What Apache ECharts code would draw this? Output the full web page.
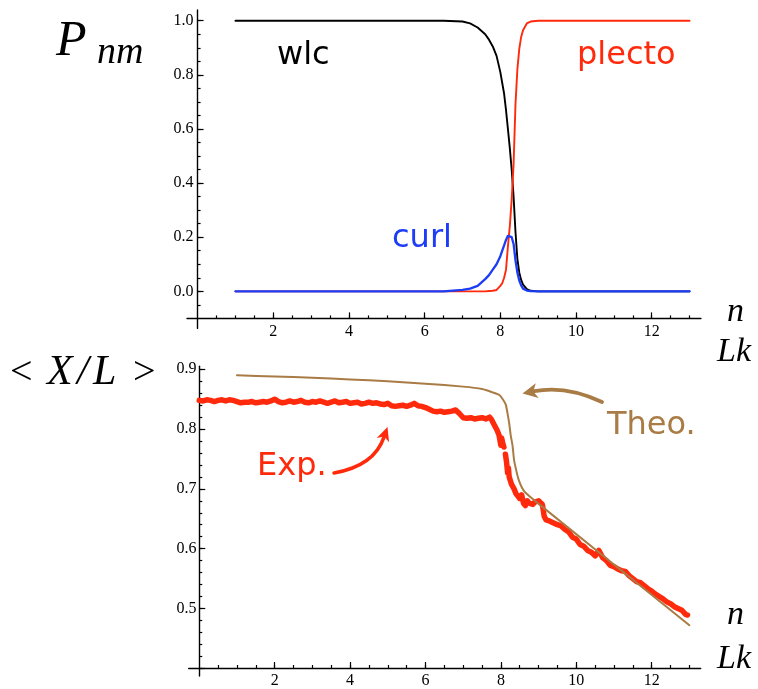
<!DOCTYPE html>
<html>
<head>
<meta charset="utf-8">
<script src="https://cdn.jsdelivr.net/npm/echarts@6/dist/echarts.min.js"></script>
<style>
  html, body { margin: 0; padding: 0; background: #fff; }
  #chart { width: 758px; height: 689px; }
</style>
</head>
<body>
<div id="chart"></div>
<script>
// ---- Upper panel: state probabilities P_nm versus n ----
const nModel = [1, 6.5, 7.0, 7.2, 7.4, 7.6, 7.7, 7.8, 7.9, 8.0, 8.05, 8.1, 8.15, 8.2, 8.25, 8.3, 8.35, 8.4, 8.45, 8.5, 8.55, 8.6, 8.7, 8.8, 9.0, 13];
const pWlc    = [1, 1, 0.997, 0.99, 0.975, 0.95, 0.93, 0.905, 0.87, 0.81, 0.77, 0.73, 0.67, 0.6, 0.53, 0.45, 0.35, 0.22, 0.12, 0.07, 0.042, 0.025, 0.008, 0.002, 0, 0];
const pPlecto = [0, 0, 0, 0, 0, 0, 0.001, 0.002, 0.005, 0.02, 0.03, 0.05, 0.08, 0.165, 0.24, 0.34, 0.47, 0.69, 0.82, 0.895, 0.94, 0.965, 0.99, 0.997, 1, 1];
const pCurl   = [0, 0, 0.005, 0.01, 0.02, 0.045, 0.06, 0.08, 0.1, 0.13, 0.15, 0.17, 0.19, 0.205, 0.212, 0.2, 0.175, 0.115, 0.07, 0.04, 0.022, 0.01, 0.003, 0.001, 0, 0];

// ---- Lower panel: relative extension <X/L> versus Lk ----
const lkTheo = [1, 2, 3, 4, 5, 6, 7, 7.5, 7.8, 7.96, 8.05, 8.13, 8.18, 8.22, 8.26, 8.31, 8.35, 8.40, 8.45, 8.49, 8.55, 8.62, 8.7, 8.79, 9.06, 13];
const xlTheo = [0.890, 0.888, 0.886, 0.883, 0.880, 0.876, 0.871, 0.867, 0.861, 0.857, 0.850, 0.841, 0.825, 0.810, 0.790, 0.772, 0.748, 0.733, 0.720, 0.712, 0.703, 0.696, 0.691, 0.686, 0.672, 0.472];

const lkExp = [
  0.0, 0.1, 0.2, 0.3, 0.4, 0.5, 0.6, 0.7, 0.8, 0.9,
  1.0, 1.1, 1.2, 1.3, 1.4, 1.5, 1.6, 1.7, 1.8, 1.9,
  2.0, 2.1, 2.2, 2.3, 2.4, 2.5, 2.6, 2.7, 2.8, 2.9,
  3.0, 3.1, 3.2, 3.3, 3.4, 3.5, 3.6, 3.7, 3.8, 3.9,
  4.0, 4.1, 4.2, 4.3, 4.4, 4.5, 4.6, 4.7, 4.8, 4.9,
  5.0, 5.1, 5.2, 5.3, 5.4, 5.5, 5.6, 5.7, 5.8, 5.9,
  6.0, 6.1, 6.2, 6.3, 6.4, 6.5, 6.6, 6.7, 6.8, 6.9,
  7.0, 7.1, 7.2, 7.3, 7.4, 7.5, 7.6, 7.7, 7.75, 7.8,
  7.85, 7.9, 7.95, 8.0, 8.02, 8.05, 8.08, 8.1, 8.12, 8.15,
  8.18, 8.2, 8.22, 8.25, 8.28, 8.3, 8.35, 8.4, 8.45, 8.5,
  8.55, 8.6, 8.65, 8.7, 8.75, 8.8, 8.85, 8.9, 8.95, 9.0,
  9.05, 9.1, 9.15, 9.2, 9.3, 9.4, 9.5, 9.6, 9.7, 9.8,
  9.9, 10.0, 10.1, 10.2, 10.3, 10.4, 10.5, 10.6, 10.7, 10.8,
  10.9, 11.0, 11.1, 11.2, 11.3, 11.4, 11.5, 11.6, 11.7, 11.8,
  11.9, 12.0, 12.1, 12.2, 12.3, 12.4, 12.5, 12.6, 12.7, 12.8,
  12.9, 12.95
];
const xlExp = [
  0.848, 0.847, 0.849, 0.848, 0.846, 0.848, 0.849, 0.847, 0.849, 0.848,
  0.846, 0.844, 0.845, 0.845, 0.846, 0.844, 0.845, 0.846, 0.845, 0.847,
  0.850, 0.846, 0.844, 0.845, 0.847, 0.845, 0.846, 0.848, 0.845, 0.844,
  0.846, 0.845, 0.847, 0.845, 0.843, 0.845, 0.847, 0.844, 0.845, 0.846,
  0.843, 0.844, 0.845, 0.842, 0.843, 0.845, 0.843, 0.844, 0.842, 0.841,
  0.843, 0.839, 0.838, 0.839, 0.840, 0.838, 0.840, 0.843, 0.839, 0.838,
  0.836, 0.833, 0.830, 0.829, 0.830, 0.828, 0.829, 0.830, 0.832, 0.826,
  0.819, 0.818, 0.819, 0.817, 0.818, 0.819, 0.817, 0.820, 0.816, 0.814,
  0.804, 0.798, 0.790, 0.773, 0.785, 0.776, 0.770, null, 0.758, 0.745,
  0.726, 0.735, 0.720, 0.722, 0.708, 0.710, 0.700, 0.692, 0.688, 0.684,
  0.690, 0.676, 0.672, 0.680, 0.676, 0.679, 0.674, 0.678, 0.675, 0.680,
  0.677, 0.674, 0.654, 0.648, 0.646, 0.643, 0.640, 0.638, 0.632, 0.628,
  0.619, 0.616, 0.607, 0.604, 0.597, 0.594, 0.588, 0.597, 0.585, 0.580,
  0.572, 0.570, 0.566, 0.563, 0.562, 0.555, 0.550, 0.545, 0.543, 0.538,
  0.533, 0.529, 0.524, 0.520, 0.516, 0.511, 0.508, 0.503, 0.500, 0.497,
  0.490, 0.489
];

// ---- Tick labels ----
const nTickLabels  = [2, 4, 6, 8, 10, 12];
const pTickLabels  = [0.0, 0.2, 0.4, 0.6, 0.8, 1.0];
const xlTickLabels = [0.5, 0.6, 0.7, 0.8, 0.9];

const RED = '#ff2a0c', BLUE = '#1d3cf5', BROWN = '#a97b45';
const SERIF = '"Liberation Serif", "DejaVu Serif", serif';
const HAND = '"DejaVu Sans", sans-serif';

function steps(from, to, step) {
  const out = [];
  for (let k = 0; from + k * step <= to + 1e-9; k++) out.push(+(from + k * step).toFixed(4));
  return out;
}
const nMinor = steps(0.5, 13, 0.5);
const pMinor = steps(-0.05, 1.0, 0.05);
const pMajor = pTickLabels.slice();
const xlMinor = steps(0.4, 0.9, 0.02);
const xlMajor = [0.4].concat(xlTickLabels);

const axisLineStyle = { color: '#000', width: 1.4 };
const tickStyle = { color: '#000', width: 1.2 };
const labelStyle = { color: '#000', fontFamily: SERIF, fontSize: 16 };

function xAxes(grid, offset) {
  const base = { gridIndex: grid, type: 'value', min: -0.28, max: 13.3, position: 'bottom', offset: offset, splitLine: { show: false } };
  return [
    Object.assign({}, base, {
      axisLine: { onZero: false, lineStyle: axisLineStyle },
      axisTick: { inside: true, length: 3, customValues: nMinor, lineStyle: tickStyle },
      axisLabel: Object.assign({ customValues: nTickLabels, margin: 5 }, labelStyle)
    }),
    Object.assign({}, base, {
      axisLine: { show: false, onZero: false },
      axisTick: { inside: true, length: 6, customValues: nTickLabels, lineStyle: tickStyle },
      axisLabel: { show: false }
    })
  ];
}
// the y axis sits on n = 0, while its labels are laid out from the grid edge,
// so the label margin is negative to bring them next to the axis line
function yAxes(grid, min, max, minor, major, labels, labelMargin) {
  const base = { gridIndex: grid, type: 'value', min: min, max: max, position: 'left', splitLine: { show: false } };
  return [
    Object.assign({}, base, {
      axisLine: { onZero: true, lineStyle: axisLineStyle },
      axisTick: { inside: true, length: 3, customValues: minor, lineStyle: tickStyle },
      axisLabel: Object.assign({ customValues: labels, margin: labelMargin, formatter: v => (+v).toFixed(1) }, labelStyle)
    }),
    Object.assign({}, base, {
      axisLine: { show: false, onZero: true },
      axisTick: { inside: true, length: 6, customValues: major, lineStyle: tickStyle },
      axisLabel: { show: false }
    })
  ];
}

const zip = (xs, ys) => xs.map((x, i) => [x, ys[i]]);

function lineSeries(name, xi, yi, data, color, width, extra) {
  return Object.assign({
    name: name, type: 'line', xAxisIndex: xi, yAxisIndex: yi, data: data,
    showSymbol: false, symbol: 'none', connectNulls: false,
    lineStyle: { color: color, width: width, join: 'round', cap: 'round' },
    itemStyle: { color: color }, animation: false, silent: true
  }, extra || {});
}

function label(x, y, text, font, fill) {
  return { type: 'text', x: x, y: y, silent: true,
    style: { text: text, font: font, fill: fill, align: 'left', textAlign: 'left', verticalAlign: 'middle', textVerticalAlign: 'middle' } };
}

function arrow(p0, c, tip, headLen, headW, color, lw) {
  const dx = tip[0] - c[0], dy = tip[1] - c[1];
  const d = Math.hypot(dx, dy), ux = dx / d, uy = dy / d;
  const bx = tip[0] - ux * headLen, by = tip[1] - uy * headLen;
  const px = -uy, py = ux;
  return [
    { type: 'bezierCurve', silent: true,
      shape: { x1: p0[0], y1: p0[1], cpx1: c[0], cpy1: c[1], x2: bx + ux * 3, y2: by + uy * 3 },
      style: { stroke: color, lineWidth: lw, fill: null, lineCap: 'round' } },
    { type: 'polygon', silent: true,
      shape: { points: [tip, [bx + px * headW / 2, by + py * headW / 2], [bx + ux * 4, by + uy * 4], [bx - px * headW / 2, by - py * headW / 2]] },
      style: { fill: color } }
  ];
}

const chart = echarts.init(document.getElementById('chart'), null, { renderer: 'canvas' });

chart.setOption({
  animation: false,
  backgroundColor: '#fff',
  grid: [
    { left: 187, top: 9.9, width: 513.9, height: 318.5 },
    { left: 188.7, top: 366.3, width: 512, height: 311.7 }
  ],
  xAxis: xAxes(0, -10).concat(xAxes(1, -8)),
  yAxis: yAxes(0, -0.137, 1.04, pMinor, pMajor, pTickLabels, -6.5)
    .concat(yAxes(1, 0.387, 0.905, xlMinor, xlMajor, xlTickLabels, -7.8)),
  series: [
    lineSeries('wlc', 0, 0, zip(nModel, pWlc), '#000', 1.9),
    lineSeries('plecto', 0, 0, zip(nModel, pPlecto), RED, 1.9),
    lineSeries('curl', 0, 0, zip(nModel, pCurl), BLUE, 2.3),
    lineSeries('Exp.', 2, 2, zip(lkExp, xlExp), RED, 5.5),
    lineSeries('Theo.', 2, 2, zip(lkTheo, xlTheo), BROWN, 2, { smooth: 0.2 })
  ],
  graphic: [
    // axis titles
    label(56, 42, 'P', 'italic 50px ' + SERIF, '#000'),
    label(97, 53, 'nm', 'italic 38px ' + SERIF, '#000'),
    label(10, 373, '<', '40px ' + SERIF, '#000'),
    label(47, 373, 'X', 'italic 42px ' + SERIF, '#000'),
    label(77, 373, '/', 'italic 42px ' + SERIF, '#000'),
    label(93, 373, 'L', 'italic 42px ' + SERIF, '#000'),
    label(133, 373, '>', '40px ' + SERIF, '#000'),
    label(727, 312, 'n', 'italic 34px ' + SERIF, '#000'),
    label(717, 352, 'Lk', 'italic 34px ' + SERIF, '#000'),
    label(727, 615, 'n', 'italic 34px ' + SERIF, '#000'),
    label(717, 659, 'Lk', 'italic 34px ' + SERIF, '#000'),
    // curve annotations
    label(277, 56, 'wlc', '32px ' + HAND, '#000'),
    label(577, 56, 'plecto', '32px ' + HAND, RED),
    label(392, 239, 'curl', '32px ' + HAND, BLUE),
    label(257, 467, 'Exp.', '32px ' + HAND, RED),
    label(607, 426, 'Theo.', '32px ' + HAND, BROWN)
  ].concat(
    arrow([334, 473], [374, 466], [387.5, 427], 14, 13, RED, 3.5),
    arrow([602, 402], [566, 385], [522.5, 393.5], 15, 15, BROWN, 3.8)
  )
});
</script>
</body>
</html>
